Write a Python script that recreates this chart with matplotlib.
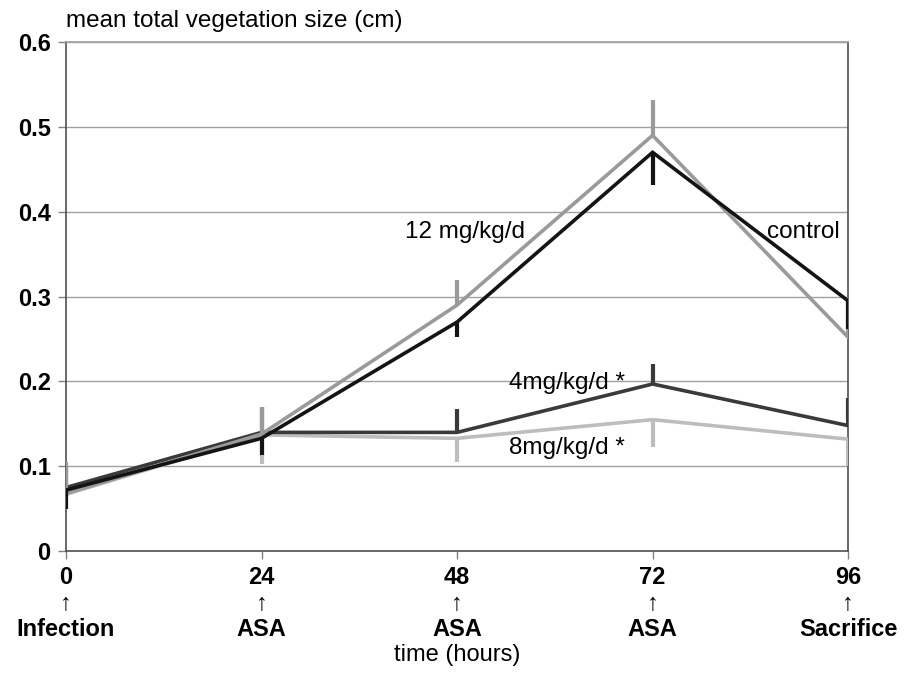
import matplotlib
matplotlib.use("Agg")
import matplotlib.pyplot as plt
import numpy as np

plt.rcParams['font.family'] = ['Liberation Sans', 'DejaVu Sans']

hours = [0, 24, 48, 72, 96]
xlabels = ["0\n\u2191\nInfection", "24\n\u2191\nASA", "48\n\u2191\nASA", "72\n\u2191\nASA", "96\n\u2191\nSacrifice"]

# mean values
control = [0.072, 0.133, 0.270, 0.470, 0.295]
mg12 = [0.068, 0.138, 0.290, 0.490, 0.252]
mg4 = [0.075, 0.140, 0.140, 0.197, 0.148]
mg8 = [0.067, 0.137, 0.133, 0.155, 0.132]

# one-sided error bar ends
control_err = [0.050, 0.113, 0.252, 0.432, 0.262]
mg12_err = [0.105, 0.170, 0.320, 0.532, 0.300]
mg4_err = [0.100, 0.170, 0.167, 0.220, 0.180]
mg8_err = [0.052, 0.103, 0.105, 0.123, 0.100]

series = [
    (mg8, mg8_err, "#bdbdbd"),
    (mg4, mg4_err, "#3a3a3a"),
    (mg12, mg12_err, "#9a9a9a"),
    (control, control_err, "#141414"),
]

fig = plt.figure(figsize=(9.1, 6.73), dpi=100)
ax = fig.add_axes([0.0725, 0.181, 0.8595, 0.7566])

for y in [0.1, 0.2, 0.3, 0.4, 0.5, 0.6]:
    ax.axhline(y, color="#a0a0a0", lw=1.0, zorder=1)

for vals, err, col in series:
    ax.plot(hours, vals, color=col, lw=2.6, zorder=3, solid_joinstyle="miter")
    ax.vlines(hours, np.minimum(vals, err), np.maximum(vals, err), color=col, lw=3, zorder=3)

ax.set_xlim(0, 96)
ax.set_ylim(0, 0.6)
ax.set_xticks(hours)
ax.set_xticklabels(xlabels, fontsize=17, fontweight="bold", linespacing=1.15)
ax.set_yticks([0, 0.1, 0.2, 0.3, 0.4, 0.5, 0.6])
ax.set_yticklabels(["0", "0.1", "0.2", "0.3", "0.4", "0.5", "0.6"], fontsize=17, fontweight="bold")
ax.tick_params(axis="both", direction="out", length=6, color="#808080", width=1, pad=5)
for s in ax.spines.values():
    s.set_color("#505050")
    s.set_linewidth(1.2)
ax.spines["top"].set_color("#a0a0a0")

ax.set_xlabel("time (hours)", fontsize=17, labelpad=2)
fig.text(0.0725, 0.953, "mean total vegetation size (cm)", fontsize=17.5, ha="left", va="bottom")

ax.text(49, 0.376, "12 mg/kg/d", fontsize=17.5, ha="center", va="center")
ax.text(90.5, 0.376, "control", fontsize=17.5, ha="center", va="center")
ax.text(61.5, 0.198, "4mg/kg/d *", fontsize=17.5, ha="center", va="center")
ax.text(61.5, 0.122, "8mg/kg/d *", fontsize=17.5, ha="center", va="center")

fig.savefig("out.png", dpi=100)
